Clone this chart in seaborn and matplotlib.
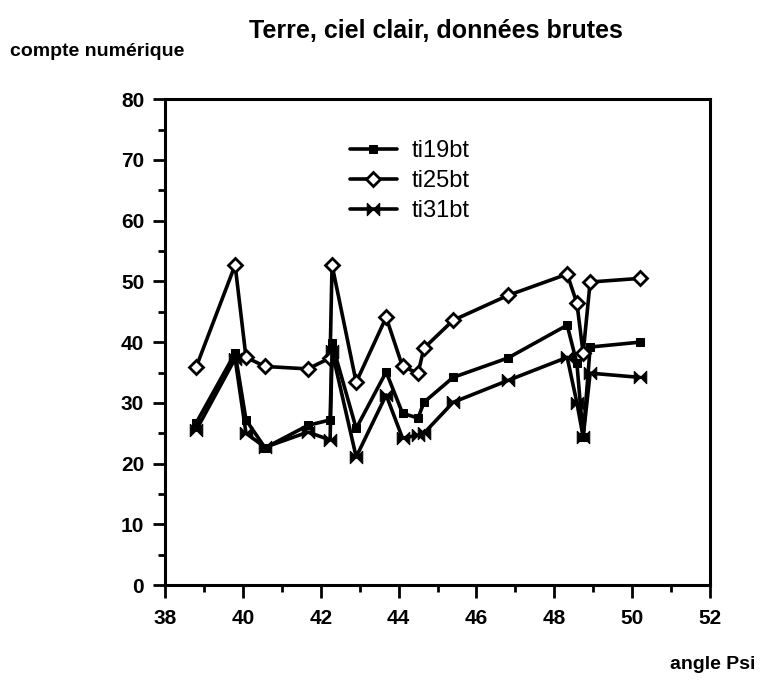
import numpy as np
import pandas as pd
import matplotlib
matplotlib.use("Agg")
import matplotlib.pyplot as plt
import seaborn as sns
from matplotlib.ticker import MultipleLocator

# valeurs
psi = [38.8, 39.8, 40.08, 40.57, 41.67, 42.24, 42.29, 42.91, 43.68, 44.1, 44.5,
       44.65, 45.4, 46.81, 48.33, 48.58, 48.74, 48.92, 50.2]
ti19bt = [26.7, 38.2, 27.2, 22.6, 26.3, 27.2, 39.8, 25.8, 35.1, 28.3, 27.5,
          30.1, 34.2, 37.4, 42.8, 36.5, 24.4, 39.2, 40.0]
ti25bt = [35.9, 52.7, 37.5, 36.0, 35.6, 37.4, 52.7, 33.4, 44.1, 36.0, 34.9,
          39.0, 43.6, 47.7, 51.2, 46.4, 38.2, 49.9, 50.5]
ti31bt = [25.5, 37.3, 25.0, 22.7, 25.2, 23.9, 38.5, 21.1, 31.3, 24.2, 24.7,
          25.0, 30.1, 33.7, 37.5, 30.0, 24.4, 34.9, 34.2]
series = {"ti19bt": ti19bt, "ti25bt": ti25bt, "ti31bt": ti31bt}

df = pd.DataFrame({"psi": psi * 3,
                   "val": ti19bt + ti25bt + ti31bt,
                   "serie": sum([[k] * len(psi) for k in series], [])})

sns.set_style("ticks")
plt.rcParams["font.family"] = ["Liberation Sans", "DejaVu Sans"]
plt.rcParams["text.color"] = "black"
plt.rcParams["xtick.color"] = "black"
plt.rcParams["ytick.color"] = "black"
plt.rcParams["axes.edgecolor"] = "black"

bowtie = [(-1, 1), (1, -1), (1, 1), (-1, -1), (-1, 1)]
styles = {
    "ti19bt": dict(marker="s", markersize=6, markerfacecolor="black"),
    "ti25bt": dict(marker="D", markersize=7, markerfacecolor="white", markeredgewidth=2),
    "ti31bt": dict(marker=bowtie, markersize=9, markerfacecolor="black"),
}

fig = plt.figure(figsize=(7.63, 6.82), dpi=100)
ax = fig.add_axes([0.2163, 0.142, 0.7143, 0.7126])

for name in series:
    sub = df[df["serie"] == name]
    sns.lineplot(data=sub, x="psi", y="val", ax=ax, color="black", linewidth=2.6,
                 estimator=None, sort=False, label=name,
                 markeredgecolor="black", **styles[name])

ax.set_xlim(38, 52)
ax.set_ylim(0, 80)
ax.xaxis.set_major_locator(MultipleLocator(2))
ax.xaxis.set_minor_locator(MultipleLocator(1))
ax.yaxis.set_major_locator(MultipleLocator(10))
ax.yaxis.set_minor_locator(MultipleLocator(5))
ax.tick_params(which="major", direction="out", length=9, width=2, labelsize=15, pad=6)
ax.tick_params(which="minor", direction="out", length=5, width=2)
ax.tick_params(axis="x", which="major", pad=8)
for lab in ax.get_xticklabels() + ax.get_yticklabels():
    lab.set_fontweight("bold")
for s in ax.spines.values():
    s.set_linewidth(2.2)
    s.set_visible(True)
ax.set_xlabel("")
ax.set_ylabel("")

leg = ax.legend(loc="upper left", bbox_to_anchor=(0.3, 0.96), frameon=False,
                fontsize=17, handlelength=2.0, labelspacing=0.35, handletextpad=0.6)

fig.text(0.572, 0.955, "Terre, ciel clair, données brutes", ha="center", va="center",
         fontsize=18, fontweight="bold")
fig.text(0.013, 0.925, "compte numérique", ha="left", va="center",
         fontsize=14, fontweight="bold")
fig.text(0.99, 0.025, "angle Psi", ha="right", va="center",
         fontsize=14, fontweight="bold")

fig.savefig("out.png", dpi=100)
